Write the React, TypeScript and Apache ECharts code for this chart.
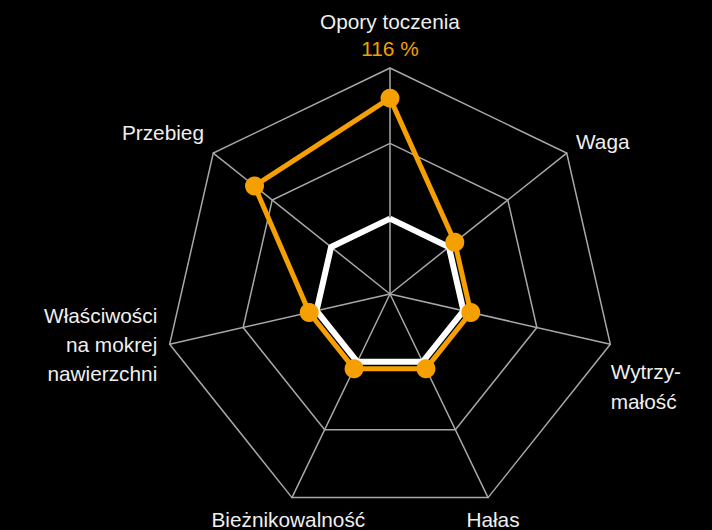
import React, { useEffect, useRef } from "react";
import * as echarts from "echarts";

// Categories in clockwise order starting at the top
const categories = [
  "Opory toczenia",
  "Waga",
  "Wytrzymałość",
  "Hałas",
  "Bieżnikowalność",
  "Właściwości na mokrej nawierzchni",
  "Przebieg",
];
// Displayed label lines for each category
const labelLines: string[][] = [
  ["Opory toczenia"],
  ["Waga"],
  ["Wytrzy-", "małość"],
  ["Hałas"],
  ["Bieżnikowalność"],
  ["Właściwości", "na mokrej", "nawierzchni"],
  ["Przebieg"],
];
const referenceValues = [100, 100, 100, 100, 100, 100, 100];
const tyreValues = [116, 101, 101, 101, 101, 101, 113];
const highlightLabel = "116 %";
const scaleMin = 90;
const scaleMax = 120;

// layout
const CX = 390;
const CY = 294;
const R = 226;
const ORANGE = "#f5a000";
const GRID = "#a8a8a8";
const TEXT = "#efefef";
const FONT = "'Liberation Sans', Arial, Helvetica, sans-serif";
const FS = 20.8;
// per label: align, dx, dy of first line, line spacing (relative to axis end vertex)
const labelLayout: { align: string; dx: number; dy: number; lh: number }[] = [
  { align: "center", dx: 0, dy: -46.7, lh: 27.5 },
  { align: "left", dx: 9.3, dy: -11.8, lh: 30 },
  { align: "left", dx: 0.4, dy: 27.7, lh: 30 },
  { align: "center", dx: 4.9, dy: 21.4, lh: 30 },
  { align: "center", dx: -3.6, dy: 21.4, lh: 30 },
  { align: "right", dx: -12.4, dy: -28.6, lh: 28.8 },
  { align: "right", dx: -9.3, dy: -20.1, lh: 30 },
];

// ECharts lays indicators counter-clockwise; convert clockwise order
const toCCW = <T,>(arr: T[]): T[] => [arr[0], ...arr.slice(1).reverse()];

export default function App() {
  const ref = useRef<HTMLDivElement>(null);
  useEffect(() => {
    if (!ref.current) return;
    const chart = echarts.init(ref.current, null, { renderer: "svg" });
    const n = categories.length;
    const graphics: any[] = [];
    categories.forEach((_, k) => {
      const th = (k * 2 * Math.PI) / n;
      const vx = CX + R * Math.sin(th);
      const vy = CY - R * Math.cos(th);
      const lay = labelLayout[k];
      labelLines[k].forEach((line, j) => {
        graphics.push({
          type: "text",
          x: vx + lay.dx,
          y: vy + lay.dy + j * lay.lh,
          silent: true,
          style: {
            text: line,
            fill: TEXT,
            font: `${FS}px ${FONT}`,
            textAlign: lay.align,
            textVerticalAlign: "middle",
          },
        });
      });
      if (k === 0) {
        graphics.push({
          type: "text",
          x: vx + lay.dx,
          y: vy + lay.dy + lay.lh,
          silent: true,
          style: {
            text: highlightLabel,
            fill: ORANGE,
            font: `${FS}px ${FONT}`,
            textAlign: "center",
            textVerticalAlign: "middle",
          },
        });
      }
    });

    chart.setOption({
      animation: false,
      backgroundColor: "#000000",
      radar: {
        center: [CX, CY],
        radius: R,
        startAngle: 90,
        splitNumber: 3,
        shape: "polygon",
        indicator: toCCW(categories).map((name) => ({ name, min: scaleMin, max: scaleMax })),
        axisName: { show: false },
        splitArea: { show: false },
        splitLine: { lineStyle: { color: GRID, width: 1.5 } },
        axisLine: { lineStyle: { color: GRID, width: 1.5 } },
        axisTick: { show: false },
        axisLabel: { show: false },
      },
      series: [
        {
          type: "radar",
          z: 2,
          symbol: "none",
          lineStyle: { color: "#ffffff", width: 6 },
          itemStyle: { color: "#ffffff" },
          data: [{ value: toCCW(referenceValues), name: "Referencja" }],
        },
        {
          type: "radar",
          z: 3,
          symbol: "circle",
          symbolSize: 19,
          lineStyle: { color: ORANGE, width: 5 },
          itemStyle: { color: ORANGE },
          data: [{ value: toCCW(tyreValues), name: "Opona" }],
        },
      ],
      graphic: graphics,
    });
    return () => chart.dispose();
  }, []);
  return (
    <div
      ref={ref}
      style={{ position: "fixed", left: 0, top: 0, width: 712, height: 530, background: "#000" }}
    />
  );
}
